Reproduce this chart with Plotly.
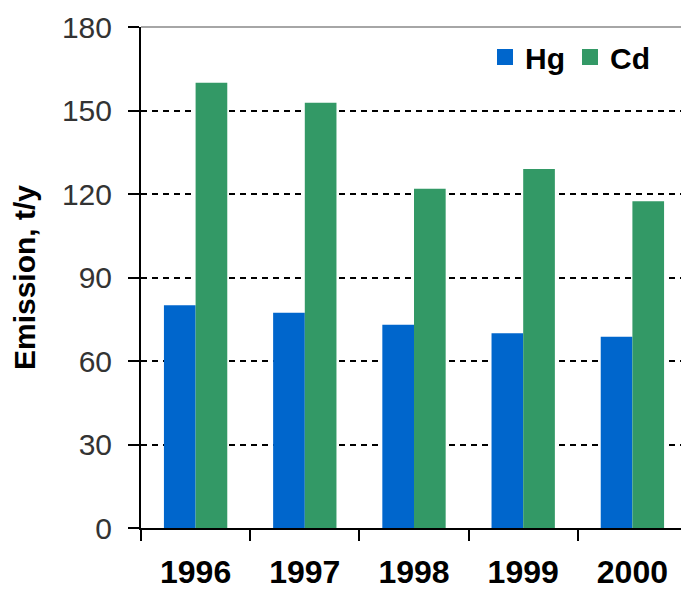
import plotly.graph_objects as go

years = ["1996", "1997", "1998", "1999", "2000"]
hg = [80, 77.3, 73, 70, 68.7]
cd = [160, 152.8, 121.9, 129, 117.4]
y_ticks = [0, 30, 60, 90, 120, 150, 180]

HG_COLOR = "#0066CC"
CD_COLOR = "#339966"
FONT = "Liberation Sans, Arial, sans-serif"

fig = go.Figure()
fig.add_trace(go.Bar(x=years, y=hg, name="Hg", marker=dict(color=HG_COLOR, line=dict(width=0)), showlegend=False))
fig.add_trace(go.Bar(x=years, y=cd, name="Cd", marker=dict(color=CD_COLOR, line=dict(width=0)), showlegend=False))
# legend entries with larger square symbols
fig.add_trace(go.Scatter(x=[None], y=[None], mode="markers", name="Hg",
                         marker=dict(symbol="square", size=20, color=HG_COLOR)))
fig.add_trace(go.Scatter(x=[None], y=[None], mode="markers", name="Cd",
                         marker=dict(symbol="square", size=20, color=CD_COLOR)))

# page body has an 8px margin, so the figure is sized to fit the 689x590 window
fig.update_layout(
    width=681, height=582, autosize=False,
    margin=dict(l=133, r=2, t=19, b=62, autoexpand=False),
    plot_bgcolor="white", paper_bgcolor="white",
    barmode="group", bargap=0.42, bargroupgap=0,
    font=dict(family=FONT, color="black"),
    legend=dict(orientation="h", x=0.63, y=0.992, xanchor="left", yanchor="top",
                font=dict(family=FONT, size=30, color="black", weight="bold"),
                itemsizing="trace", bgcolor="rgba(0,0,0,0)", tracegroupgap=0),
    showlegend=True,
)
fig.update_xaxes(
    type="category", showline=True, linecolor="black", linewidth=2, automargin=False,
    ticks="outside", tickson="boundaries", ticklen=11, tickwidth=2, tickcolor="black",
    tickfont=dict(family=FONT, size=32, color="black", weight="bold"),
    ticklabelstandoff=15, showgrid=False, zeroline=False,
)
fig.update_yaxes(
    range=[0, 180], tickvals=y_ticks, showline=True, linecolor="black", linewidth=2,
    automargin=False,
    ticks="outside", ticklen=11, tickwidth=2, tickcolor="black",
    tickfont=dict(family=FONT, size=30, color="#333333"),
    ticklabelstandoff=10,
    showgrid=True, gridcolor="black", gridwidth=1.5, griddash="6px,5px",
    zeroline=False,
    title=dict(text="Emission, t/y", font=dict(family=FONT, size=30, color="black", weight="bold"), standoff=44),
)
# top and right border lines
fig.add_shape(type="line", xref="paper", yref="paper", x0=0, x1=1, y0=1, y1=1,
              line=dict(color="#a6a6a6", width=2))
fig.add_shape(type="line", xref="paper", yref="paper", x0=1, x1=1, y0=0, y1=1,
              line=dict(color="#a6a6a6", width=2))

fig.write_html("out.html")
